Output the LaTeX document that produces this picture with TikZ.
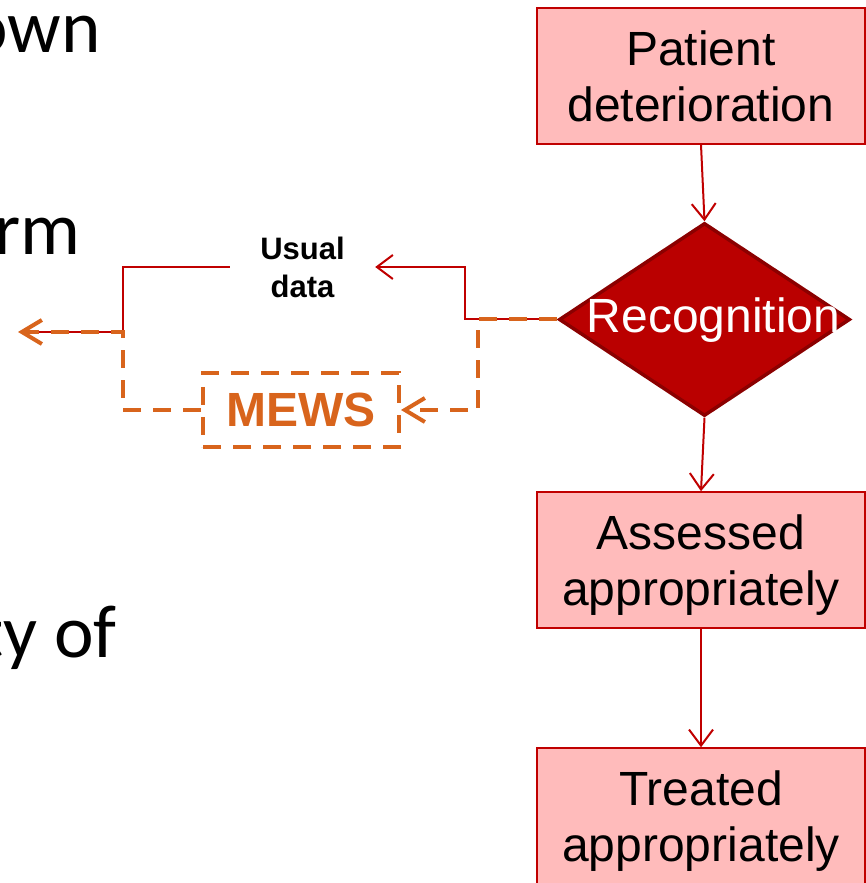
\documentclass[tikz,border=0pt]{standalone}
\usepackage{fontspec}
\setmainfont{Liberation Sans}
\newfontfamily\slidefont{Carlito}
\usetikzlibrary{shapes.geometric,arrows.meta}
\definecolor{boxfill}{HTML}{FFBBBB}
\definecolor{boxline}{HTML}{C00000}
\definecolor{conred}{HTML}{C00000}
\definecolor{recfill}{HTML}{BA0000}
\definecolor{recline}{HTML}{8B0000}
\definecolor{mewsorange}{HTML}{D8641C}
\tikzset{
  stepbox/.style={draw=boxline, fill=boxfill, line width=1.5pt, minimum width=328pt,
    minimum height=136pt, inner sep=0pt, align=center, font=\fontsize{48}{56}\selectfont},
  redline/.style={draw=conred, line width=2pt},
  redarrow/.style={redline, -{Straight Barb[length=16pt,width=24pt,line width=2pt]}},
  orangedash/.style={draw=mewsorange, line width=4pt, dash pattern=on 18pt off 12pt},
  orangearrow/.style={orangedash, -{Straight Barb[length=20pt,width=24pt,line width=4pt]}},
  slidetext/.style={anchor=base east, inner sep=0pt, font=\slidefont\fontsize{75}{90}\selectfont},
}
\begin{document}
\begin{tikzpicture}[x=1pt,y=1pt]
\useasboundingbox (0,0) rectangle (866,883);
\clip (0,0) rectangle (866,883);

% clipped slide text on the left
\node[slidetext] (t1) at (101,830) {own};
\node[slidetext] (t2) at (81,628) {rm};
\node[slidetext] (t3) at (117,225) {ty of};

% main flow
\node[stepbox] (pd) at (701,807) {Patient\\deterioration};
\node[diamond, draw=recline, fill=recfill, line width=3.5pt, minimum width=291pt,
      minimum height=193pt, inner sep=0pt] (rec) at (704.5,563.5) {};
\node[anchor=base, text=white, inner sep=0pt, font=\fontsize{48}{56}\selectfont]
      (rectext) at (713.5,550) {Recognition};
\node[stepbox] (as) at (701,323) {Assessed\\\smash{appropriately}};
\node[stepbox] (tr) at (701,67) {Treated\\\smash{appropriately}};

\draw[redarrow] (pd.south) -- (rec.north);
\draw[redarrow] (rec.south) -- (as.north);
\draw[redarrow] (as.south) -- (tr.north);

% side branch
\node[inner sep=0pt, minimum width=145pt, align=center,
      font=\bfseries\fontsize{31}{38}\selectfont] (usual) at (302.5,616) {Usual\\data};
\node[draw=mewsorange, line width=4pt, dash pattern=on 18pt off 12pt,
      minimum width=196pt, minimum height=74pt, inner sep=0pt, text=mewsorange,
      font=\bfseries\fontsize{48}{52}\selectfont] (mews) at (301,473) {MEWS};

\coordinate (ra) at (465,616);
\coordinate (rb) at (123,616);
\coordinate (rc) at (123,551);
\coordinate (out) at (18,551);
\coordinate (oa) at (478,473);

\draw[redarrow] (rec.west) -| (ra) -- (usual.east);
\draw[redline] (usual.west) -- (rb) -- (rc) -- ([xshift=6pt]out);
\draw[orangearrow] (rec.west) -| (oa) -- (mews.east);
\draw[orangearrow] (mews.west) -| (rc) -- (out);
\end{tikzpicture}
\end{document}
